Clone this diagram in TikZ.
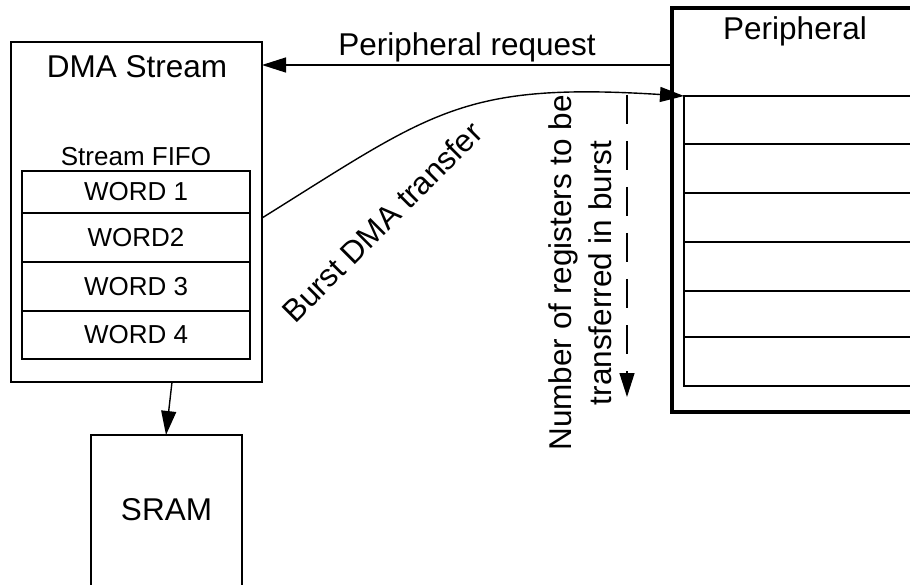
\documentclass[tikz,border=0pt]{standalone}
\usepackage{fontspec}
\setmainfont{Liberation Sans}
\usetikzlibrary{arrows.meta}
\tikzset{
  box/.style={draw, line width=1.4pt, inner sep=0pt, outer sep=0pt},
  heavybox/.style={draw, line width=3.3pt, inner sep=0pt, outer sep=0pt},
  big/.style={font=\fontsize{31.5pt}{40pt}\selectfont, inner sep=0pt},
  small/.style={font=\fontsize{26pt}{31pt}\selectfont, inner sep=0pt},
  arr/.style={line width=1.4pt, -{Triangle[length=24pt,width=15pt]}},
}
\begin{document}
\begin{tikzpicture}[x=1pt,y=-1pt]
\useasboundingbox (0,0) rectangle (910,585);
\clip (0,0) rectangle (910,585);
% DMA stream
\node[box, minimum width=251pt, minimum height=340pt] (dma) at (136.5,212) {};
\node[big, anchor=base] (dmat) at (137,78) {DMA Stream};
\node[small, anchor=base] (fifot) at (136,166) {Stream FIFO};
\node[box, small, minimum width=228pt, minimum height=42pt] (w1) at (136,192) {WORD 1};
\node[box, small, minimum width=228pt, minimum height=49pt] (w2) at (136,237.5) {WORD2};
\node[box, small, minimum width=228pt, minimum height=49pt] (w3) at (136,286.5) {WORD 3};
\node[box, small, minimum width=228pt, minimum height=48pt] (w4) at (136,335) {WORD 4};
% SRAM
\node[box, minimum width=151pt, minimum height=185pt] (sram) at (166.5,527.5) {};
\node[big] (sramt) at (166.5,510) {SRAM};
% Peripheral
\node[heavybox, minimum width=268pt, minimum height=404pt] (per) at (806,210) {};
\node[big, anchor=base] (pert) at (795,40) {Peripheral};
\node[box, minimum width=256pt, minimum height=48pt] (r1) at (812,120) {};
\node[box, minimum width=256pt, minimum height=49pt] (r2) at (812,168.5) {};
\node[box, minimum width=256pt, minimum height=49pt] (r3) at (812,217.5) {};
\node[box, minimum width=256pt, minimum height=49pt] (r4) at (812,266.5) {};
\node[box, minimum width=256pt, minimum height=46pt] (r5) at (812,314) {};
\node[box, minimum width=256pt, minimum height=49pt] (r6) at (812,361.5) {};
% connectors
\draw[arr] (per.west |- 0,65) -- (dma.east |- 0,65);
\node[big, anchor=base] (reqt) at (467,56) {Peripheral request};
\coordinate (bs) at (dma.east |- 0,218);
\draw[arr] (bs) .. controls (432,112) and (462,82) .. (r1.north west);
\node[big, rotate=45] (burstt) at (382,222) {Burst DMA transfer};
\node[big, rotate=90, align=center] (numt) at (580.5,273) {Number of registers to be\\transferred in burst};
\coordinate (ds) at (627,95);
\coordinate (de) at (627,397);
\draw[arr, dash pattern=on 29pt off 17pt] (ds) -- (de);
\draw[arr] (dma.south -| 172,0) -- (sram.north -| 166,0);
\end{tikzpicture}
\end{document}
